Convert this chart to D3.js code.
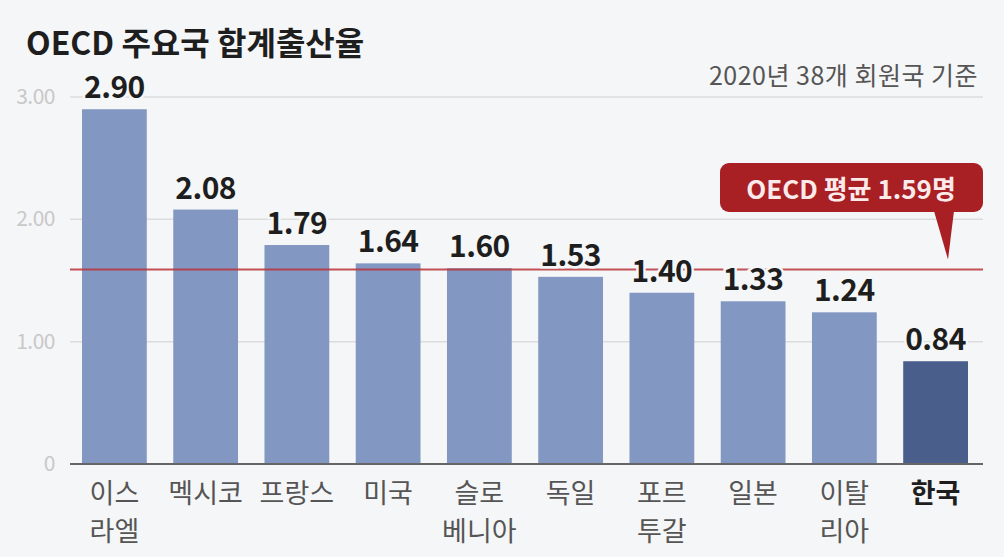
<!DOCTYPE html>
<html>
<head>
<meta charset="utf-8">
<script src="https://cdn.jsdelivr.net/npm/d3@7"></script>
<style>
  body { margin: 0; background: #f5f6f7; }
  svg { display: block; font-family: "Noto Sans CJK KR", "Noto Sans", sans-serif; }
</style>
</head>
<body>
<div class="chart"></div>
<script>
// data
var countries = [["이스", "라엘"], ["멕시코"], ["프랑스"], ["미국"], ["슬로", "베니아"], ["독일"], ["포르", "투갈"], ["일본"], ["이탈", "리아"], ["한국"]];
var rates = [2.90, 2.08, 1.79, 1.64, 1.60, 1.53, 1.40, 1.33, 1.24, 0.84];
var yTicks = [0, 1, 2, 3];
var oecdAvg = 1.59;
var highlight = "한국";

var width = 1004, height = 557;

var svg = d3.select(".chart")
  .append("svg")
  .attr("width", width)
  .attr("height", height);

svg.append("rect")
  .attr("width", "100%")
  .attr("height", "100%")
  .attr("fill", "#f5f6f7");

var keys = countries.map(c => c.join(""));

var x = d3.scaleBand()
  .domain(keys)
  .range([82, 968])
  .paddingInner(0.29)
  .paddingOuter(0);

var y = d3.scaleLinear()
  .domain([0, 3])
  .range([464, 97]);

// gridlines + tick labels
svg.append("g")
  .selectAll("line")
  .data(yTicks.filter(t => t > 0))
  .enter()
  .append("line")
  .attr("x1", 70)
  .attr("x2", 983)
  .attr("y1", d => y(d))
  .attr("y2", d => y(d))
  .attr("stroke", "#dcdcdc")
  .attr("stroke-width", 1.5);

svg.append("g")
  .selectAll("text")
  .data(yTicks)
  .enter()
  .append("text")
  .attr("x", 55)
  .attr("y", d => y(d) + 7)
  .attr("text-anchor", "end")
  .attr("font-size", 21)
  .attr("letter-spacing", -0.5)
  .attr("fill", "#c8c8c8")
  .text(d => d === 0 ? "0" : d.toFixed(2));

// bars
svg.append("g")
  .selectAll("rect")
  .data(rates)
  .enter()
  .append("rect")
  .attr("x", (d, i) => x(keys[i]))
  .attr("y", d => y(d))
  .attr("width", x.bandwidth())
  .attr("height", d => y(0) - y(d))
  .attr("fill", (d, i) => keys[i] === highlight ? "#4a5e8b" : "#8298c2");

// baseline
svg.append("line")
  .attr("x1", 70)
  .attr("x2", 983)
  .attr("y1", y(0))
  .attr("y2", y(0))
  .attr("stroke", "#666")
  .attr("stroke-width", 2);

// OECD average line
svg.append("line")
  .attr("x1", 70)
  .attr("x2", 983)
  .attr("y1", y(oecdAvg))
  .attr("y2", y(oecdAvg))
  .attr("stroke", "#b8343a")
  .attr("stroke-opacity", 0.85)
  .attr("stroke-width", 2);

// value labels
svg.append("g")
  .selectAll("text")
  .data(rates)
  .enter()
  .append("text")
  .attr("x", (d, i) => x(keys[i]) + x.bandwidth() / 2)
  .attr("y", d => y(d) - 11)
  .attr("text-anchor", "middle")
  .attr("font-size", 30)
  .attr("font-weight", "bold")
  .attr("letter-spacing", -0.5)
  .attr("fill", "#1e1e1e")
  .attr("stroke", "#f5f6f7")
  .attr("stroke-width", 5)
  .attr("paint-order", "stroke")
  .text(d => d.toFixed(2));

// category labels
var cat = svg.append("g")
  .selectAll("text")
  .data(countries)
  .enter()
  .append("text")
  .attr("x", (d, i) => x(keys[i]) + x.bandwidth() / 2)
  .attr("y", 503)
  .attr("text-anchor", "middle")
  .attr("font-size", 27)
  .attr("font-weight", (d, i) => keys[i] === highlight ? "bold" : "normal")
  .attr("fill", (d, i) => keys[i] === highlight ? "#1e1e1e" : "#555");

cat.selectAll("tspan")
  .data(d => d)
  .enter()
  .append("tspan")
  .attr("x", function() { return d3.select(this.parentNode).attr("x"); })
  .attr("dy", (d, i) => i === 0 ? 0 : 38)
  .text(d => d);

// title
svg.append("text")
  .attr("x", 26)
  .attr("y", 55)
  .attr("font-size", 32)
  .attr("font-weight", "bold")
  .attr("letter-spacing", 0)
  .attr("fill", "#1e1e1e")
  .text("OECD 주요국 합계출산율");

svg.append("text")
  .attr("x", 978)
  .attr("y", 85)
  .attr("text-anchor", "end")
  .attr("font-size", 25)
  .attr("letter-spacing", 0.5)
  .attr("fill", "#555")
  .text("2020년 38개 회원국 기준");

// callout box
var tipX = 948;
var callout = svg.append("g");
callout.append("path")
  .attr("d", `M${tipX - 14},211 L${tipX},${y(oecdAvg) - 10} L${tipX + 6},211 Z`)
  .attr("fill", "#a81f24");
callout.append("rect")
  .attr("x", 720)
  .attr("y", 163)
  .attr("width", 263)
  .attr("height", 49)
  .attr("rx", 9)
  .attr("fill", "#a81f24");
callout.append("text")
  .attr("x", 851)
  .attr("y", 199)
  .attr("text-anchor", "middle")
  .attr("font-size", 26)
  .attr("font-weight", "bold")
  .attr("letter-spacing", 0)
  .attr("fill", "#fbeaea")
  .text(`OECD 평균 ${oecdAvg}명`);
</script>
</body>
</html>
